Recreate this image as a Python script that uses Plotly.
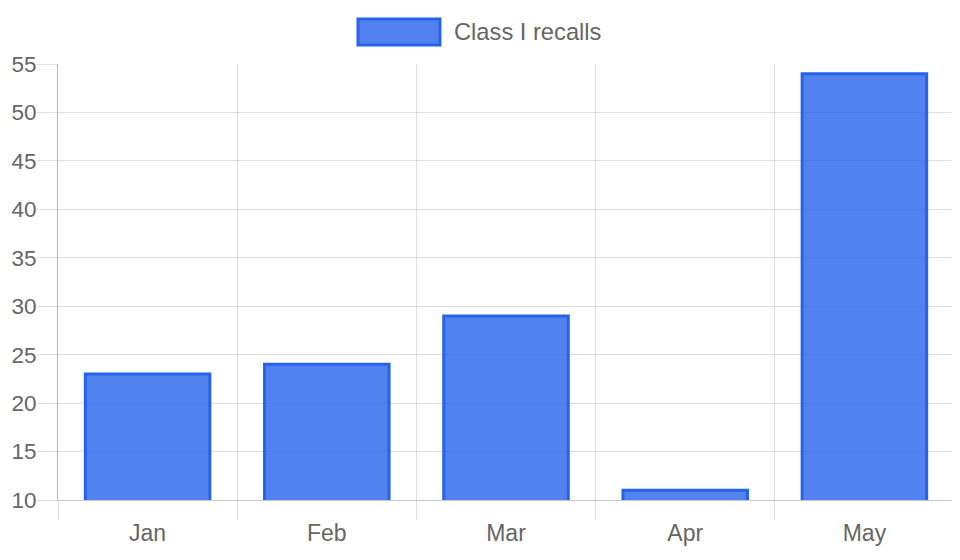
import plotly.graph_objects as go

months = ["Jan", "Feb", "Mar", "Apr", "May"]
recalls = [23, 24, 29, 11, 54]
series_name = "Class I recalls"

font_family = "Liberation Sans, Arial, sans-serif"
grid = "rgba(0, 0, 0, 0.13)"
text_grey = "#666666"
bar_fill = "rgba(37, 99, 235, 0.8)"
bar_edge = "#2563eb"

fig = go.Figure()

fig.add_trace(go.Bar(
    x=months,
    y=recalls,
    name=series_name,
    marker=dict(color=bar_fill, line=dict(color=bar_edge, width=3)),
    showlegend=False,
))

# Chart.js-like legend: wide swatch + label, centred above the plot
fig.add_shape(
    type="rect", xref="paper", yref="paper",
    x0=0.3348, x1=0.4263, y0=1.0436, y1=1.1032,
    fillcolor=bar_fill, line=dict(color=bar_edge, width=3),
)
fig.add_annotation(
    text=series_name, xref="paper", yref="paper",
    x=0.4397, y=1.0734, xanchor="left", yanchor="middle",
    showarrow=False, font=dict(size=23.7, color=text_grey, family=font_family),
)

# the page body adds an 8px offset, so margins are shifted to compensate
fig.update_layout(
    width=960,
    height=560,
    margin=dict(l=50, r=14, t=56, b=68),
    plot_bgcolor="white",
    paper_bgcolor="white",
    bargap=0.305,
    font=dict(family=font_family, size=23, color=text_grey),
    showlegend=False,
)

fig.update_xaxes(
    type="category",
    tickson="boundaries",
    ticks="outside",
    ticklen=19,
    tickcolor=grid,
    showgrid=True,
    gridcolor=grid,
    gridwidth=1,
    showline=True,
    linecolor="#c8c8c8",
    linewidth=1,
    tickfont=dict(size=23, color=text_grey),
    ticklabelstandoff=12,
    automargin=False,
)

fig.update_yaxes(
    range=[10, 55],
    dtick=5,
    tick0=10,
    ticks="outside",
    ticklen=20,
    tickcolor=grid,
    showgrid=True,
    gridcolor=grid,
    gridwidth=1,
    showline=True,
    linecolor="#b4b4b4",
    linewidth=1,
    zeroline=False,
    ticklabelstandoff=-4,
    tickfont=dict(size=22.5, color=text_grey),
    automargin=False,
)

fig.write_html("out.html")
